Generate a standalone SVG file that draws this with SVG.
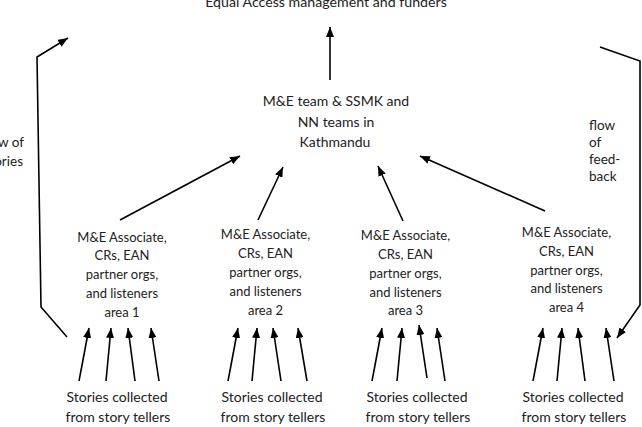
<svg xmlns="http://www.w3.org/2000/svg" width="642" height="427" viewBox="0 0 642 427">
<style>
text{font-family:Lato,"Liberation Sans",sans-serif;fill:#222;}
.c{text-anchor:middle;}
.big{font-size:14px;}
.top{font-size:14.2px;}
.mid{font-size:13px;}
.lbl{font-size:13.5px;}
.ln{fill:none;stroke:#000;stroke-width:1.6;}
.ar{marker-end:url(#ah);}
</style>
<defs>
<marker id="ah" viewBox="0 0 10 8" refX="10" refY="4" markerWidth="10" markerHeight="8" markerUnits="userSpaceOnUse" orient="auto">
<path d="M0,0 L10,4 L0,8 z" fill="#000"/>
</marker>
</defs>
<rect width="642" height="427" fill="#fff"/>

<g id="top-node"><text class="c top" x="326" y="7">Equal Access management and funders</text></g>

<g id="central-node">
<text class="c big" x="336" y="106">M&amp;E team &amp; SSMK and</text>
<text class="c big" x="336" y="127">NN teams in</text>
<text class="c big" x="335" y="147">Kathmandu</text>
</g>

<g id="area1">
<text class="c mid" x="122" y="241.5">M&amp;E Associate,</text>
<text class="c mid" x="122" y="260">CRs, EAN</text>
<text class="c mid" x="122" y="279">partner orgs,</text>
<text class="c mid" x="122" y="298">and listeners</text>
<text class="c mid" x="122" y="316.5">area 1</text>
</g>
<g id="area2">
<text class="c mid" x="265.5" y="238.5">M&amp;E Associate,</text>
<text class="c mid" x="265.5" y="257.5">CRs, EAN</text>
<text class="c mid" x="265.5" y="276.5">partner orgs,</text>
<text class="c mid" x="265.5" y="295.5">and listeners</text>
<text class="c mid" x="265.5" y="314.5">area 2</text>
</g>
<g id="area3">
<text class="c mid" x="405.5" y="239.5">M&amp;E Associate,</text>
<text class="c mid" x="405.5" y="258.5">CRs, EAN</text>
<text class="c mid" x="405.5" y="277.5">partner orgs,</text>
<text class="c mid" x="405.5" y="296.5">and listeners</text>
<text class="c mid" x="405.5" y="314.5">area 3</text>
</g>
<g id="area4">
<text class="c mid" x="566.5" y="236.5">M&amp;E Associate,</text>
<text class="c mid" x="566.5" y="255.5">CRs, EAN</text>
<text class="c mid" x="566.5" y="274.5">partner orgs,</text>
<text class="c mid" x="566.5" y="292.5">and listeners</text>
<text class="c mid" x="566.5" y="311.5">area 4</text>
</g>

<g id="stories1">
<text class="c big" x="117" y="402">Stories collected</text>
<text class="c big" x="118" y="422">from story tellers</text>
</g>
<g id="stories2">
<text class="c big" x="272" y="402">Stories collected</text>
<text class="c big" x="273" y="422">from story tellers</text>
</g>
<g id="stories3">
<text class="c big" x="417" y="402">Stories collected</text>
<text class="c big" x="418" y="422">from story tellers</text>
</g>
<g id="stories4">
<text class="c big" x="573" y="402">Stories collected</text>
<text class="c big" x="574" y="422">from story tellers</text>
</g>

<g id="label-stories">
<text class="lbl" x="24" y="147" text-anchor="end">flow of</text>
<text class="lbl" x="23" y="166" text-anchor="end">stories</text>
</g>
<g id="label-feedback">
<text class="lbl" x="589" y="130">flow</text>
<text class="lbl" x="589" y="147">of</text>
<text class="lbl" x="589" y="164">feed-</text>
<text class="lbl" x="589" y="181">back</text>
</g>

<g id="connectors">
<line class="ln ar" x1="330" y1="80" x2="330" y2="27"/>
<polyline class="ln ar" points="67,337 41,307 37,57 68,38"/>
<polyline class="ln ar" points="600,47 640,61 640,305 617,338"/>

<line class="ln ar" x1="120" y1="220" x2="240" y2="156"/>
<line class="ln ar" x1="258" y1="220" x2="283" y2="167"/>
<line class="ln ar" x1="403" y1="221" x2="378" y2="166"/>
<line class="ln ar" x1="545" y1="211" x2="420" y2="156"/>

<line class="ln ar" x1="79" y1="381" x2="89" y2="328"/>
<line class="ln ar" x1="106" y1="381" x2="111" y2="328"/>
<line class="ln ar" x1="135" y1="381" x2="128" y2="328"/>
<line class="ln ar" x1="159" y1="381" x2="151" y2="328"/>

<line class="ln ar" x1="228" y1="381" x2="238" y2="328"/>
<line class="ln ar" x1="252" y1="381" x2="257" y2="328"/>
<line class="ln ar" x1="281" y1="381" x2="273" y2="328"/>
<line class="ln ar" x1="307" y1="381" x2="298" y2="328"/>

<line class="ln ar" x1="372" y1="381" x2="382" y2="328"/>
<line class="ln ar" x1="397" y1="381" x2="402" y2="328"/>
<line class="ln ar" x1="427" y1="378" x2="419" y2="325"/>
<line class="ln ar" x1="445" y1="381" x2="437" y2="328"/>

<line class="ln ar" x1="533" y1="381" x2="543" y2="328"/>
<line class="ln ar" x1="557" y1="381" x2="562" y2="328"/>
<line class="ln ar" x1="585" y1="381" x2="578" y2="328"/>
<line class="ln ar" x1="614" y1="381" x2="606" y2="328"/>
</g>
</svg>
